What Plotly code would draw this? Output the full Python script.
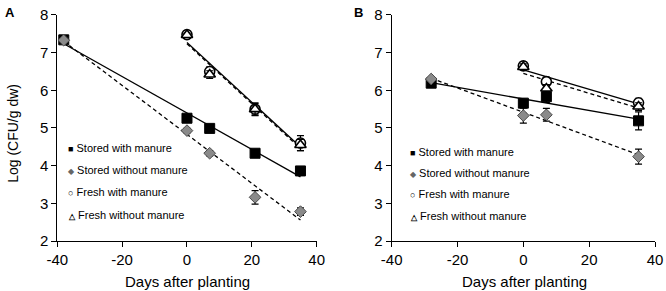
import numpy as np
import plotly.graph_objects as go

# ---------------- data ----------------
days_A_stored = [-38, 0, 7, 21, 35]
days_A_fresh = [0, 7, 21, 35]
A_stored_with = [7.34, 5.26, 4.99, 4.33, 3.86]
A_stored_with_err = [0.05, 0.06, 0.05, 0.06, 0.08]
A_stored_without = [7.33, 4.93, 4.33, 3.16, 2.78]
A_stored_without_err = [0.05, 0.06, 0.07, 0.18, 0.10]
A_fresh_with = [7.48, 6.50, 5.50, 4.60]
A_fresh_with_err = [0.06, 0.12, 0.17, 0.20]
A_fresh_without = [7.47, 6.42, 5.50, 4.55]
A_fresh_without_err = [0.05, 0.10, 0.15, 0.15]

days_B_stored = [-28, 0, 7, 35]
days_B_fresh = [0, 7, 35]
B_stored_with = [6.19, 5.66, 5.83, 5.19]
B_stored_with_err = [0.05, 0.10, 0.15, 0.24]
B_stored_without = [6.30, 5.33, 5.35, 4.24]
B_stored_without_err = [0.04, 0.20, 0.17, 0.20]
B_fresh_with = [6.65, 6.23, 5.67]
B_fresh_with_err = [0.10, 0.12, 0.12]
B_fresh_without = [6.62, 6.05, 5.57]
B_fresh_without_err = [0.08, 0.10, 0.10]

series_names = ["Stored with manure", "Stored without manure",
                "Fresh with manure", "Fresh without manure"]
x_ticks = [-40, -20, 0, 20, 40]
x_tick_labels = ["-40", "-20", "0", "20", "40"]
y_ticks = [2, 3, 4, 5, 6, 7, 8]

FONT = "Arial, Liberation Sans, sans-serif"

styles = [
    dict(symbol="square", size=10, color="black", line=dict(color="black", width=1), dash="solid"),
    dict(symbol="diamond", size=9, color="#8a8a8a", line=dict(color="#4a4a4a", width=1), dash="4px,3px"),
    dict(symbol="circle", size=10, color="white", line=dict(color="black", width=1.6), dash="solid"),
    dict(symbol="triangle-up", size=10, color="white", line=dict(color="black", width=1.6), dash="4px,3px"),
]

panels = [
    ("x", "y", [(days_A_stored, A_stored_with, A_stored_with_err),
                (days_A_stored, A_stored_without, A_stored_without_err),
                (days_A_fresh, A_fresh_with, A_fresh_with_err),
                (days_A_fresh, A_fresh_without, A_fresh_without_err)]),
    ("x2", "y2", [(days_B_stored, B_stored_with, B_stored_with_err),
                  (days_B_stored, B_stored_without, B_stored_without_err),
                  (days_B_fresh, B_fresh_with, B_fresh_with_err),
                  (days_B_fresh, B_fresh_without, B_fresh_without_err)]),
]

fig = go.Figure()

for xa, ya, sets in panels:
    # trend lines (linear regression)
    for (xs, ys, es), st in zip(sets, styles):
        k, b = np.polyfit(xs, ys, 1)
        xl = np.array([min(xs), max(xs)])
        fig.add_trace(go.Scatter(x=xl, y=k * xl + b, mode="lines", xaxis=xa, yaxis=ya,
                                 line=dict(color="black", width=1.3, dash=st["dash"]),
                                 showlegend=False, hoverinfo="skip"))
    # markers with error bars
    for (xs, ys, es), st, nm in zip(sets, styles, series_names):
        fig.add_trace(go.Scatter(x=xs, y=ys, mode="markers", xaxis=xa, yaxis=ya, name=nm,
                                 marker=dict(symbol=st["symbol"], size=st["size"], color=st["color"],
                                             line=st["line"]),
                                 error_y=dict(type="data", array=es, visible=True,
                                              color="black", thickness=1.2, width=3.5),
                                 showlegend=False))

axis_common = dict(showline=True, linecolor="black", linewidth=1, ticks="outside",
                   ticklen=5, tickcolor="black", tickwidth=1, showgrid=False, zeroline=False,
                   ticklabeloverflow="allow", automargin=False,
                   tickfont=dict(family=FONT, size=15, color="black"))

fig.update_layout(
    width=666, height=291, margin=dict(l=0, r=0, t=0, b=0, pad=0, autoexpand=False),
    plot_bgcolor="white", paper_bgcolor="white",
    xaxis=dict(domain=[0.0860, 0.4755], range=[-40, 40], tickvals=x_ticks, ticktext=x_tick_labels,
               anchor="y", **axis_common),
    yaxis=dict(domain=[0.1718, 0.9485], range=[2, 8], tickvals=y_ticks, anchor="x", **axis_common),
    xaxis2=dict(domain=[0.5881, 0.9835], range=[-40, 40], tickvals=x_ticks, ticktext=x_tick_labels,
                anchor="y2", **axis_common),
    yaxis2=dict(domain=[0.1718, 0.9485], range=[2, 8], tickvals=y_ticks, anchor="x2", **axis_common),
    showlegend=False,
)

ann = []
# axis titles
ann.append(dict(text="Log (CFU/g dw)", x=13 / 666, y=0.54, xref="paper", yref="paper",
                textangle=-90, showarrow=False, xanchor="center", yanchor="middle",
                font=dict(family=FONT, size=14, color="black")))
for cx in [187 / 666, 524 / 666]:
    ann.append(dict(text="Days after planting", x=cx, y=0.031, xref="paper", yref="paper",
                    showarrow=False, xanchor="center", yanchor="middle",
                    font=dict(family=FONT, size=15, color="black")))
# panel letters
for lx, lt in [(3 / 666, "A"), (352 / 666, "B")]:
    ann.append(dict(text="<b>%s</b>" % lt, x=lx, y=1 - 3 / 291, xref="paper", yref="paper",
                    showarrow=False, xanchor="left", yanchor="top",
                    font=dict(family=FONT, size=13, color="black")))
# legends
glyphs = ["<span style='font-size:9px;color:black'>■</span>",
          "<span style='font-size:8px;color:#666666'>◆</span>",
          "<span style='font-size:9px;color:black'><b>○</b></span>",
          "<span style='font-size:8px;color:black'><b>△</b></span>"]
leg_pos = [("x domain", "y domain", 0.035, [0.41, 0.314, 0.2155, 0.115]),
           ("x2 domain", "y2 domain", 0.062, [0.395, 0.30, 0.207, 0.11])]
for xr, yr, lx, lys in leg_pos:
    for g, nm, ly in zip(glyphs, series_names, lys):
        ann.append(dict(text=g + " " + nm, x=lx, y=ly, xref=xr, yref=yr, showarrow=False,
                        xanchor="left", yanchor="middle",
                        font=dict(family=FONT, size=11, color="black")))
fig.update_layout(annotations=ann)

fig.write_html("out.html", config={"displayModeBar": False},
               post_script="document.documentElement.style.margin='0';document.body.style.margin='0';"
                           "document.body.style.padding='0';document.body.style.overflow='hidden';"
                           "document.documentElement.style.overflow='hidden';")
